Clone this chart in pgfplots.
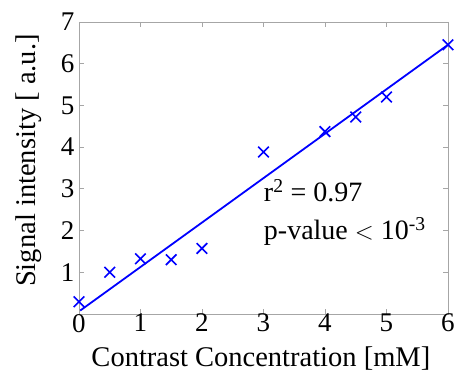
\documentclass[border=0pt]{standalone}
\usepackage{pgfplots}
\pgfplotsset{compat=1.18}
\usepackage{fontspec}
\setmainfont{Liberation Serif}
\begin{document}
\begin{tikzpicture}
\begin{axis}[
  scale only axis, width=369pt, height=292pt,
  xmin=0, xmax=6, ymin=0, ymax=7,
  xtick={0,1,2,3,4,5,6}, ytick={1,2,3,4,5,6,7},
  tick align=inside, major tick length=5pt,
  tick style={gray!70, line width=0.6pt},
  axis line style={gray!70, line width=0.6pt},
  font=\fontsize{27}{31}\selectfont,
  /pgf/number format/assume math mode=true,
  xlabel={Contrast Concentration [mM]},
  ylabel={Signal intensity [ a.u.]},
  label style={font=\fontsize{28.5}{32}\selectfont},
  xlabel style={at={(axis description cs:0.493,-0.153)}, anchor=center, inner sep=0pt},
  ylabel style={at={(axis description cs:-0.135,0.525)}, anchor=center},
  xticklabel style={inner sep=0pt},
  yticklabel style={xshift=-1pt},
  clip=false,
]
\addplot[blue, only marks, mark=x, mark size=7.5pt, mark options={line width=1.6pt}] coordinates {
 (0,0.29) (0.5,1.0) (1,1.32) (1.5,1.3) (2,1.57) (3,3.88) (4,4.37) (4.5,4.72) (5,5.2) (6,6.45)
};
\addplot[blue, line width=1.8pt] coordinates {(0.02,0.08) (6,6.45)};
\node[anchor=west, align=left, font=\fontsize{28}{38}\selectfont] at (axis cs:2.95,2.42) {r\textsuperscript{2} = 0.97\\p-value $<$ 10\textsuperscript{-3}};
\path[use as bounding box] (rel axis cs:-0.214,-0.209) rectangle (rel axis cs:1.057,1.075);
\end{axis}
\end{tikzpicture}
\end{document}
